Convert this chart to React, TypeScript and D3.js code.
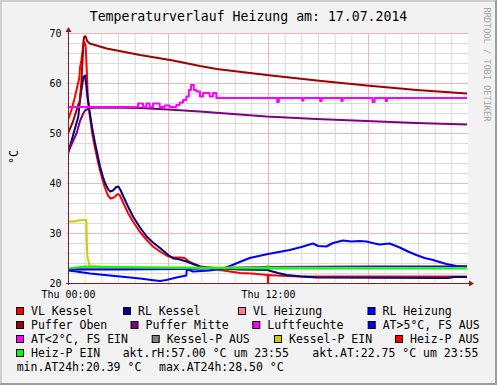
import React from "react";
import * as d3 from "d3";

// ---- data (hours since 00:00, °C / %) ----
const vlKessel: [number, number][] = [[0,52.6],[0.2,54.5],[0.4,57],[0.6,59.9],[0.68,61],[0.72,63],[0.8,64.5],[0.86,66],[0.92,67.5],[0.98,68.2],[1.06,67.4],[1.12,63],[1.18,58],[1.28,54.2],[1.45,50],[1.62,47],[1.8,44.2],[1.92,42.5],[2.1,40.3],[2.22,39],[2.4,37.5],[2.55,36.9],[2.75,37.1],[3.0,37.8],[3.1,37.6],[3.32,36],[3.6,34],[3.9,32.3],[4.3,30.3],[4.72,28.6],[5.1,27.3],[5.52,26.3],[6.02,25.3],[6.32,25.1],[6.7,25.1],[7.0,25.0],[7.3,24.2],[7.92,23.3],[8.5,22.9],[9.12,22.6],[10.32,22.0],[11,21.9],[11.98,21.6],[12,20.0],[12.03,21.6],[12.5,21.5],[13.9,21.3],[23.94,21.3]];
const rlKessel: [number, number][] = [[0,45.9],[0.3,49.5],[0.62,53.3],[0.7,56],[0.8,58.5],[0.92,61.2],[1.02,61.5],[1.1,59.5],[1.16,57.3],[1.28,54.6],[1.45,51],[1.62,48],[1.8,45.2],[1.92,43.3],[2.1,41.2],[2.22,40],[2.4,38.8],[2.52,38.3],[2.7,38.5],[2.9,39.2],[3.02,39.3],[3.15,38.6],[3.32,37.3],[3.6,35.3],[3.9,33.3],[4.3,31.2],[4.72,29.3],[5.1,28.1],[5.52,27],[6.02,25.6],[6.32,24.9],[6.6,24.8],[7.12,24.3],[7.5,23.8],[7.92,23.3],[9.12,22.9],[10.32,22.7],[11.98,22.6],[12.0,23.3],[12.05,22.5],[12.6,22.0],[13.12,21.6],[14.0,21.3],[14.92,21.1],[22.8,21.0],[23.2,21.2],[23.94,21.2]];
const vlHeizung: [number, number][] = [[0,22.9],[12,23.0],[23.94,23.0]];
const rlHeizung: [number, number][] = [[0,22.7],[3,22.7],[7,22.8],[9,23.0],[12,23.2],[18,23.3],[23.94,23.3]];
const pufferOben: [number, number][] = [[0,49.9],[0.3,52.3],[0.6,55.5],[0.7,56.3],[0.8,60],[0.88,65],[0.93,68.5],[0.98,69.3],[1.06,69.3],[1.15,68.4],[1.3,67.9],[2.32,66.9],[4.32,65.6],[6.3,64.5],[7.92,63.4],[8.92,62.8],[11.92,61.6],[14.92,60.5],[17.92,59.5],[20.92,58.6],[23.94,57.9]];
const pufferMitte: [number, number][] = [[0,46.1],[0.25,48],[0.52,50],[0.72,52.4],[0.9,53.8],[1.02,54.5],[1.3,55.0],[2,55.1],[4.3,55.0],[6,54.7],[7.9,54.3],[11.9,53.3],[14.9,52.8],[17.9,52.4],[20.9,52.0],[23.94,51.7]];
const luftfeuchte: [number, number][] = [[0,55.2],[4.2,55.9],[4.5,55.2],[4.7,55.9],[4.9,55.2],[5.1,55.9],[5.5,55.2],[5.8,55.5],[6.1,55.2],[6.5,55.6],[6.7,56.1],[6.9,56.6],[7.1,57.3],[7.25,58.6],[7.38,59.6],[7.55,58.6],[7.7,58.3],[7.92,57.3],[8.1,58.0],[8.5,57.3],[8.7,58.0],[8.9,57.0],[12.55,56.2],[12.65,57.0],[14.05,56.5],[14.13,57.0],[15.13,56.4],[15.22,57.0],[16.4,56.4],[16.48,57.0],[18.27,56.2],[18.4,57.0],[19.06,56.4],[19.14,57.0],[23.94,57.0]];
const aussenTemp: [number, number][] = [[0,22.5],[0.5,22.3],[1.32,21.9],[2.2,21.6],[3.12,21.3],[4.32,20.9],[5.0,20.6],[5.52,20.4],[5.9,20.6],[6.5,21.1],[7.1,21.5],[7.13,22.8],[7.5,22.3],[8.5,22.5],[9.3,22.9],[9.8,23.5],[10.3,24.2],[10.9,25.0],[12.0,25.8],[13.3,26.6],[14.0,27.2],[14.7,27.9],[15.0,27.4],[15.5,27.3],[15.9,28.0],[16.5,28.5],[17.0,28.3],[17.5,28.4],[17.9,28.3],[18.4,27.9],[18.7,27.7],[19.3,27.9],[19.9,27.1],[20.4,26.3],[20.9,25.6],[21.4,25.0],[21.9,24.6],[22.7,23.8],[23.3,23.4],[23.94,23.3]];
const kesselPEin: [number, number][] = [[0,32.3],[0.4,32.3],[0.6,32.5],[0.95,32.6],[1.1,32.6],[1.13,28],[1.17,25.2],[1.3,23.4],[2,23.3],[3.5,23.2],[6,23.1],[23.94,23.0]];
const heizPEin: [number, number][] = [[0,22.9],[1.0,23.3],[2,23.2],[5,23.1],[8,23.0],[11.98,22.9],[12.0,23.4],[12.03,22.9],[18,22.9],[23.94,22.9]];

const legendLabels: string[][] = [
  ["VL Kessel", "RL Kessel", "VL Heizung", "RL Heizung"],
  ["Puffer Oben", "Puffer Mitte", "Luftfeuchte", "AT>5°C, FS AUS"],
  ["AT<2°C, FS EIN", "Kessel-P AUS", "Kessel-P EIN", "Heiz-P AUS"],
  ["Heiz-P EIN"],
];
const legendColors: string[][] = [
  ["#FF0000", "#000080", "#FF8090", "#0000FF"],
  ["#A00000", "#800080", "#FF00FF", "#0000FF"],
  ["#FF00FF", "#808080", "#CCCC00", "#FF0000"],
  ["#00FF00"],
];
const infoRow4: string[] = ["akt.rH:57.00 °C um 23:55", "akt.AT:22.75 °C um 23:55"];
const infoRow5: string[] = ["min.AT24h:20.39 °C", "max.AT24h:28.50 °C"];
const yTicks: number[] = [20, 30, 40, 50, 60, 70];
const xTickHours: number[] = [0, 12];
const xTickLabels: string[] = ["Thu 00:00", "Thu 12:00"];

// ---- layout ----
const W = 497, H = 385;
const PL = 68, PR = 468, PT = 33, PB = 283;
const legendTextX: number[][] = [
  [31, 138, 253, 382.5],
  [31, 145.5, 267.3, 382.7],
  [31, 166.7, 289, 410],
  [31],
];
const legendBase = [315, 329, 343, 357, 370.5];
const FONT = "'DejaVu Sans Mono', 'Liberation Mono', monospace";

const seriesDraw: { data: [number, number][]; color: string; step?: boolean }[] = [
  { data: vlKessel, color: "#FF0000" },
  { data: rlKessel, color: "#000080" },
  { data: vlHeizung, color: "#FF8090" },
  { data: rlHeizung, color: "#0000FF" },
  { data: pufferOben, color: "#A00000" },
  { data: pufferMitte, color: "#800080" },
  { data: luftfeuchte, color: "#FF00FF", step: true },
  { data: aussenTemp, color: "#0000FF" },
  { data: kesselPEin, color: "#CCCC00" },
  { data: heizPEin, color: "#00FF00" },
];

export default function App() {
  const x = d3.scaleLinear().domain([0, 24]).range([PL, PR]);
  const y = d3.scaleLinear().domain([20, 70]).range([PB, PT]);
  const hours = d3.range(0, 24);
  const vals = d3.range(20, 71, 2);

  const mkLine = (step?: boolean) =>
    d3.line<[number, number]>()
      .x((d) => x(d[0]))
      .y((d) => y(d[1]))
      .curve(step ? d3.curveStepAfter : d3.curveLinear);

  return (
    <svg width={W} height={H} style={{ position: "absolute", left: 0, top: 0 }} fontFamily={FONT}>
      <rect x={0} y={0} width={W} height={H} fill="#F2F2F2" />
      <rect x={0} y={0} width={W} height={2} fill="#CFCFCF" />
      <rect x={0} y={0} width={2} height={H} fill="#CFCFCF" />
      <rect x={W - 2} y={0} width={2} height={H} fill="#9E9E9E" />
      <rect x={0} y={H - 2} width={W} height={2} fill="#9E9E9E" />

      <text x={248.5} y={21} textAnchor="middle" fontSize={13.2} fill="#000">
        Temperaturverlauf Heizung am: 17.07.2014
      </text>
      <text transform="translate(483.5,7.5) rotate(90)" fontSize={8.6} fill="#A8A8A8">
        RRDTOOL / TOBI OETIKER
      </text>

      <rect x={PL} y={PT} width={PR - PL} height={PB - PT} fill="#FFFFFF" />

      {/* minor grid */}
      {hours.filter((h) => h % 6 !== 0).map((h) => (
        <line key={"vm" + h} x1={x(h) + 0.5} x2={x(h) + 0.5} y1={PT} y2={PB} stroke="#DADADA" strokeWidth={1} />
      ))}
      {vals.filter((v) => v % 10 !== 0).map((v) => (
        <line key={"hm" + v} x1={PL - 2} x2={PR} y1={y(v) + 0.5} y2={y(v) + 0.5} stroke="#DADADA" strokeWidth={1} />
      ))}
      {/* major grid */}
      {hours.filter((h) => h % 6 === 0 && h > 0).map((h) => (
        <line key={"vM" + h} x1={x(h) + 0.5} x2={x(h) + 0.5} y1={PT} y2={PB + 2} stroke="#F2B4B4" strokeWidth={1} />
      ))}
      {yTicks.map((v) => (
        <line key={"hM" + v} x1={PL - 2} x2={PR} y1={y(v) + 0.5} y2={y(v) + 0.5} stroke="#F2B4B4" strokeWidth={1} />
      ))}

      <defs>
        <clipPath id="plotclip">
          <rect x={PL} y={PT - 3} width={PR - PL + 2} height={PB - PT + 3} />
        </clipPath>
      </defs>
      <g clipPath="url(#plotclip)">
        {seriesDraw.map((s, i) => (
          <path key={i} d={mkLine(s.step)(s.data) || ""} fill="none" stroke={s.color} strokeWidth={2} strokeLinejoin="round" />
        ))}
      </g>

      {/* axes */}
      <line x1={PL + 0.5} x2={PL + 0.5} y1={PB + 2} y2={PT - 4} stroke="#802020" strokeWidth={1} />
      <line x1={PL - 2} x2={PR + 2} y1={PB + 0.5} y2={PB + 0.5} stroke="#802020" strokeWidth={1} />
      <path d={`M${PL + 0.5},${PT - 6} L${PL - 2.5},${PT - 1} L${PL + 3.5},${PT - 1} Z`} fill="#802020" />
      <path d={`M${PR + 6},${PB + 0.5} L${PR + 1},${PB - 2.5} L${PR + 1},${PB + 3.5} Z`} fill="#802020" />

      {yTicks.map((v) => (
        <text key={"yl" + v} x={61.5} y={y(v) + 3.7} textAnchor="end" fontSize={10} fill="#000">{v}</text>
      ))}
      {xTickHours.map((h, i) => (
        <text key={"xl" + h} x={x(h) + 0.5} y={298} textAnchor="middle" fontSize={10} fill="#000">{xTickLabels[i]}</text>
      ))}
      <text transform="translate(18,157) rotate(-90)" textAnchor="middle" fontSize={11.5} fill="#000">°C</text>

      {/* legend */}
      {legendLabels.map((row, r) =>
        row.map((lab, c) => {
          const tx = legendTextX[r][c];
          const by = legendBase[r];
          return (
            <g key={"lg" + r + "_" + c}>
              <rect x={tx - 14.5} y={by - 7.5} width={7} height={7} fill={legendColors[r][c]} stroke="#000" strokeWidth={1} />
              <text x={tx} y={by} fontSize={11.5} fill="#000">{lab}</text>
            </g>
          );
        })
      )}
      <text x={122.7} y={legendBase[3]} fontSize={11.5} fill="#000">{infoRow4[0]}</text>
      <text x={312.3} y={legendBase[3]} fontSize={11.5} fill="#000">{infoRow4[1]}</text>
      <text x={16.7} y={legendBase[4]} fontSize={11.5} fill="#000">{infoRow5[0]}</text>
      <text x={159} y={legendBase[4]} fontSize={11.5} fill="#000">{infoRow5[1]}</text>
    </svg>
  );
}
